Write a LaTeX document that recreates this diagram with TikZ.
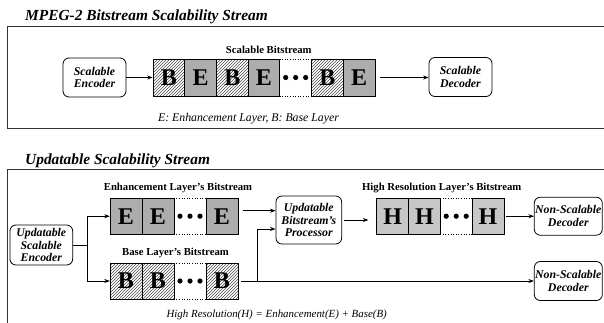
\documentclass[tikz,border=0pt]{standalone}
\usepackage{fontspec}
\setmainfont{Liberation Serif}
\usetikzlibrary{patterns,arrows.meta}
\begin{document}
\begin{tikzpicture}[x=1pt,y=-1pt,
  box/.style={draw, rounded corners=6pt, line width=0.8pt, inner sep=0pt, align=center,
    font=\fontsize{11.8}{12.6}\selectfont\bfseries\itshape},
  frame/.style={line width=1pt, draw=black!80},
  title/.style={anchor=west, inner sep=0pt, font=\fontsize{15.4}{16}\selectfont\bfseries\itshape},
  lbl/.style={inner sep=0pt, font=\fontsize{10.7}{11}\selectfont\bfseries},
  note/.style={inner sep=0pt, font=\fontsize{11.8}{12}\selectfont\itshape},
  cell/.style={draw, line width=0.7pt, minimum width=31.7pt, inner sep=0pt,
    font=\fontsize{24}{24}\selectfont\bfseries},
  bcell/.style={cell, pattern=north east lines, pattern color=black!70},
  ecell/.style={cell, fill=black!32},
  hcell/.style={cell, fill=black!22},
  dcell/.style={minimum width=31.7pt, inner sep=0pt},
  arr/.style={-{Stealth[length=5.5pt,width=4pt]}, line width=0.7pt},
  ln/.style={line width=0.7pt},
  dotl/.style={dotted, line width=0.6pt}
]
\useasboundingbox (0,0) rectangle (604,322);

% ---------- Section 1 ----------
\node[title] (t1) at (25,17) {MPEG-2 Bitstream Scalability Stream};
\draw[frame] (606,26) -- (7.3,26) -- (7.3,128.7) -- (606,128.7);

\node[box, minimum width=63pt, minimum height=39pt] (enc1) at (94.5,77.5) {Scalable\\Encoder};
\node[box, minimum width=63pt, minimum height=39pt] (dec1) at (460.5,77) {Scalable\\Decoder};

\node[lbl] (sbl) at (268.8,50) {Scalable Bitstream};
\begin{scope}[every node/.append style={minimum height=37pt}]
\node[bcell] (c1) at (168.85,77.5) {B};
\node[ecell] (c2) at (200.55,77.5) {E};
\node[bcell] (c3) at (232.25,77.5) {B};
\node[ecell] (c4) at (263.95,77.5) {E};
\node[dcell] (c5) at (295.65,77.5) {};
\node[bcell] (c6) at (327.35,77.5) {B};
\node[ecell] (c7) at (359.05,77.5) {E};
\end{scope}
\draw[dotl] (c5.north west) -- (c5.north east);
\draw[dotl] (c5.south west) -- (c5.south east);
\foreach \dx in {-10,0,10} \fill ([xshift=\dx pt]c5.center) circle (2.6pt);

\node[note] (n1) at (248.5,119) {E: Enhancement Layer, B: Base Layer};

\draw[arr] (enc1.east) -- (c1.west);
\draw[arr, shorten <=5pt] (c7.east) -- (c7.east -| dec1.west);

% ---------- Section 2 ----------
\node[title] (t2) at (25,161) {Updatable Scalability Stream};
\draw[frame] (606,169.3) -- (7.3,169.3) -- (7.3,324);

\node[box, minimum width=62.7pt, minimum height=40pt] (upenc) at (41.3,245) {Updatable\\Scalable\\Encoder};
\node[box, minimum width=65.7pt, minimum height=48pt] (proc) at (308.8,220) {Updatable\\Bitstream's\\Processor};
\node[box, minimum width=68pt, minimum height=38pt] (nsd1) at (568.3,216.2) {Non-Scalable\\Decoder};
\node[box, minimum width=68pt, minimum height=39pt] (nsd2) at (568.3,281) {Non-Scalable\\Decoder};

\node[lbl] (el) at (178,187.7) {Enhancement Layer's Bitstream};
\node[lbl] (bl) at (175.5,253.3) {Base Layer's Bitstream};
\node[lbl] (hl) at (441.7,188.3) {High Resolution Layer's Bitstream};

\begin{scope}[every node/.append style={minimum height=35.7pt, minimum width=32pt}]
\node[ecell] (e1) at (126,216.2) {E};
\node[ecell] (e2) at (158,216.2) {E};
\node[dcell, minimum width=32pt] (e3) at (190,216.2) {};
\node[ecell] (e4) at (222,216.2) {E};
\node[bcell] (b1) at (126,281) {B};
\node[bcell] (b2) at (158,281) {B};
\node[dcell, minimum width=32pt] (b3) at (190,281) {};
\node[bcell] (b4) at (222,281) {B};
\end{scope}
\begin{scope}[every node/.append style={minimum height=35.7pt, minimum width=31.8pt}]
\node[hcell] (h1) at (392.6,216.2) {H};
\node[hcell] (h2) at (424.4,216.2) {H};
\node[dcell, minimum width=31.8pt] (h3) at (456.2,216.2) {};
\node[hcell] (h4) at (488,216.2) {H};
\end{scope}
\foreach \c in {e3,b3,h3} {
  \draw[dotl] (\c.north west) -- (\c.north east);
  \draw[dotl] (\c.south west) -- (\c.south east);
  \foreach \dx in {-10,0,10} \fill ([xshift=\dx pt]\c.center) circle (2.6pt);
}

\node[note, font=\fontsize{10.9}{11}\selectfont\itshape] (n2) at (276.7,314.5) {High Resolution(H) = Enhancement(E) + Base(B)};

\coordinate (j1) at (87.3,245);
\draw[ln] (upenc.east) -- (j1);
\draw[arr] (j1) |- (e1.west);
\draw[arr] (j1) |- (b1.west);

\draw[arr] ([xshift=5pt,yshift=5.5pt]e4.east) coordinate (s1) -- (s1 -| proc.west);
\draw[arr] ([xshift=3pt]b4.east) -- (nsd2.west);
\coordinate (j2) at (257.7,281);
\draw[arr] (j2) |- ([yshift=-9pt]proc.west);
\draw[arr, shorten <=1.5pt, shorten >=8pt] (proc.east) -- (proc.east -| h1.west);
\draw[arr, shorten <=2pt] (h4.east) -- (nsd1.west);
\end{tikzpicture}
\end{document}
